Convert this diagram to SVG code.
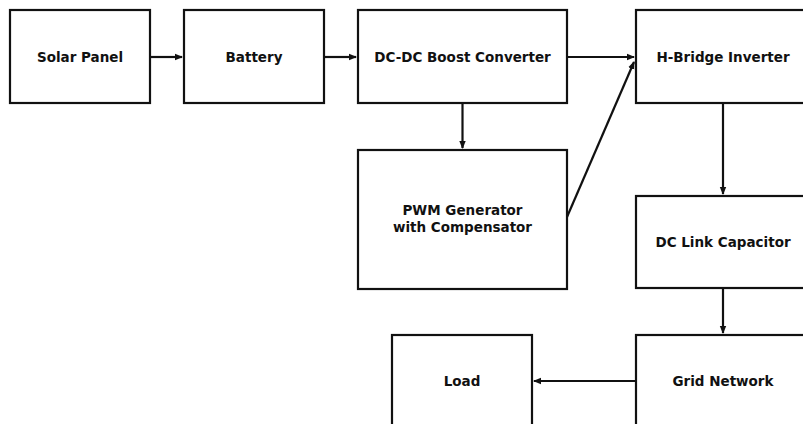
<svg xmlns="http://www.w3.org/2000/svg" width="803" height="424" viewBox="0 0 803 424">
<style>
.box{fill:#fff;stroke:#111;stroke-width:2.2}
.lbl{font-family:"DejaVu Sans",sans-serif;font-weight:bold;font-size:13.5px;fill:#111;text-anchor:middle;dominant-baseline:central}
.edge{stroke:#111;stroke-width:2.2;fill:none;marker-end:url(#ah)}
</style>
<defs>
<marker id="ah" markerWidth="8" markerHeight="8" refX="7" refY="4" orient="auto" markerUnits="userSpaceOnUse">
<path d="M0,0.8 L8,4 L0,7.2 Z" fill="#111"/>
</marker>
</defs>
<rect width="803" height="424" fill="#fff"/>
<g id="connectors">
<line class="edge" x1="150" y1="57" x2="182" y2="57"/>
<line class="edge" x1="324" y1="57" x2="356" y2="57"/>
<line class="edge" x1="567" y1="57" x2="634" y2="57"/>
<line class="edge" x1="567" y1="217" x2="634" y2="62"/>
<line class="edge" x1="462.5" y1="103" x2="462.5" y2="148"/>
<line class="edge" x1="723" y1="103" x2="723" y2="194"/>
<line class="edge" x1="723" y1="288" x2="723" y2="333"/>
<line class="edge" x1="636" y1="381" x2="534" y2="381"/>
</g>
<g id="solar"><rect class="box" x="10" y="10" width="140" height="93"/><text class="lbl" x="80" y="57">Solar Panel</text></g>
<g id="battery"><rect class="box" x="184" y="10" width="140" height="93"/><text class="lbl" x="254" y="57">Battery</text></g>
<g id="dcdc"><rect class="box" x="358" y="10" width="209" height="93"/><text class="lbl" x="462.5" y="57">DC-DC Boost Converter</text></g>
<g id="hbridge"><rect class="box" x="636" y="10" width="174" height="93"/><text class="lbl" x="723" y="57">H-Bridge Inverter</text></g>
<g id="pwm"><rect class="box" x="358" y="150" width="209" height="139"/><text class="lbl" x="462.5" y="210">PWM Generator</text><text class="lbl" x="462.5" y="227">with Compensator</text></g>
<g id="dclink"><rect class="box" x="636" y="196" width="174" height="92"/><text class="lbl" x="723" y="242">DC Link Capacitor</text></g>
<g id="grid"><rect class="box" x="636" y="335" width="174" height="93"/><text class="lbl" x="723" y="381">Grid Network</text></g>
<g id="load"><rect class="box" x="392" y="335" width="140" height="93"/><text class="lbl" x="462" y="381">Load</text></g>
</svg>
